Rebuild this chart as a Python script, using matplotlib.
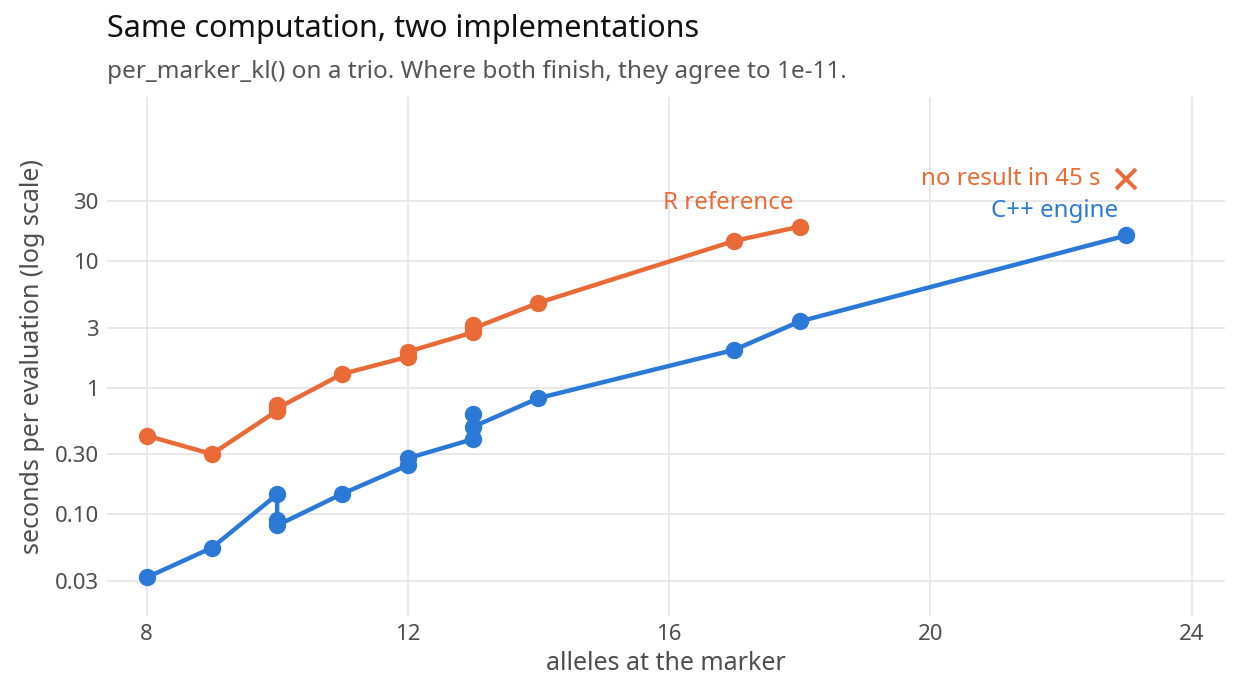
import matplotlib
matplotlib.use("Agg")
import matplotlib.pyplot as plt
import numpy as np

plt.rcParams['font.family'] = ['Noto Sans', 'DejaVu Sans']

# data
alleles = [8, 9, 10, 10, 10, 11, 12, 12, 13, 13, 13, 14, 17, 18, 23]
r_seconds = [0.42, 0.30, 0.66, 0.73, 0.69, 1.29, 1.76, 1.93, 2.75, 3.15, 2.95, 4.7, 14.5, 18.8, None]
cpp_seconds = [0.0318, 0.0545, 0.144, 0.090, 0.082, 0.146, 0.245, 0.278, 0.394, 0.618, 0.493, 0.83, 2.0, 3.35, 16.0]
timeout_x = 23
timeout_s = 45
x_ticks = [8, 12, 16, 20, 24]
y_ticks = [0.03, 0.10, 0.30, 1, 3, 10, 30]
y_tick_labels = ["0.03", "0.10", "0.30", "1", "3", "10", "30"]

ORANGE = "#E96A36"
BLUE = "#2B79D7"
GRID = "#E6E6E6"
TICK = "#4D4D4D"

fig = plt.figure(figsize=(12.4, 7), dpi=100)
ax = fig.add_axes([107/1240, 84/700, (1225-107)/1240, (616-97)/700])

rx = [a for a, v in zip(alleles, r_seconds) if v is not None]
ry = [v for v in r_seconds if v is not None]
ax.plot(rx, ry, color=ORANGE, lw=3.2, marker='o', ms=11.5, solid_capstyle='round', zorder=3)
ax.plot(alleles, cpp_seconds, color=BLUE, lw=3.2, marker='o', ms=11.5, solid_capstyle='round', zorder=3)
ax.plot([timeout_x], [timeout_s], marker='x', color=ORANGE, ms=15, mew=2.8, ls='none', zorder=4)

ax.set_yscale('log')
ax.set_xlim(7.395, 24.51)
ax.set_ylim(0.01578, 198.6)
ax.set_xticks(x_ticks)
ax.set_xticklabels([str(t) for t in x_ticks])
ax.set_yticks(y_ticks)
ax.set_yticklabels(y_tick_labels)
ax.yaxis.set_minor_locator(matplotlib.ticker.NullLocator())
ax.grid(True, color=GRID, lw=1.3)
ax.set_axisbelow(True)
for s in ax.spines.values():
    s.set_visible(False)
ax.tick_params(length=0, labelsize=16, labelcolor=TICK, pad=6)

ax.set_xlabel("alleles at the marker", fontsize=18, color="#4D4D4D", labelpad=4)
ax.set_ylabel("seconds per evaluation (log scale)", fontsize=18, color="#4D4D4D", labelpad=7)

ax.text(16.9, 28.9, "R reference", color=ORANGE, fontsize=17.3, ha='center', va='center')
ax.text(22.87, 25, "C++ engine", color=BLUE, fontsize=17.3, ha='right', va='center')
ax.text(22.6, 45, "no result in 45 s", color=ORANGE, fontsize=17.3, ha='right', va='center')

fig.text(107/1240, 1 - 37/700, "Same computation, two implementations", fontsize=22, color="#111111", ha='left', va='baseline')
fig.text(107/1240, 1 - 78/700, "per_marker_kl() on a trio. Where both finish, they agree to 1e-11.", fontsize=17.5, color="#555555", ha='left', va='baseline')

fig.savefig("out.png", dpi=100)
